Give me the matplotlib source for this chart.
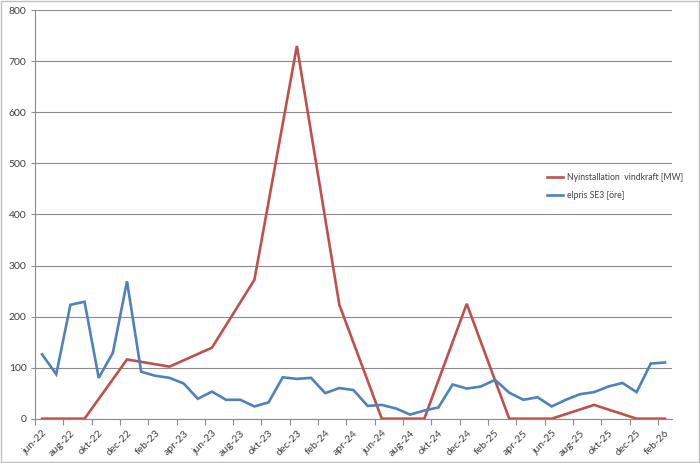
import matplotlib
matplotlib.use("Agg")
from matplotlib import pyplot as plt
from matplotlib.patches import Rectangle
import numpy as np

# months jun-22 .. feb-26 (Swedish short names)
month_names = ["jan", "feb", "mar", "apr", "maj", "jun",
               "jul", "aug", "sep", "okt", "nov", "dec"]
months = []
for year in range(22, 27):
    for m in month_names:
        months.append(f"{m}-{year}")
months = months[5:5 + 45]

# elpris SE3 [öre], monthly
elpris = [126, 87, 223, 229, 80, 129, 269, 92, 84, 80, 69, 39, 53, 37, 37, 24,
          32, 81, 78, 80, 50, 60, 56, 25, 27, 20, 8, 16, 22, 67, 59, 63, 76,
          51, 37, 42, 24, 37, 48, 52, 63, 70, 52, 108, 110]

# Nyinstallation vindkraft [MW], quarterly points
wind_idx = [0, 3, 6, 9, 12, 15, 18, 21, 24, 27, 30, 33, 36, 39, 42, 44]
wind_mw = [0, 0, 116, 102, 139, 272, 730, 223, 0, 0, 225, 0, 0, 27, 0, 0]

red = "#C0504D"
blue = "#4F81BD"
grid_col = "#8C8C8C"

plt.rcParams["font.family"] = ["Lato", "DejaVu Sans"]

fig = plt.figure(figsize=(7, 4.63), dpi=100)
ax = fig.add_axes([0.05, 0.0957, 0.91, 0.8823])

x = np.arange(len(months))
ax.plot(wind_idx, wind_mw, color=red, lw=1.9, label="Nyinstallation  vindkraft [MW]",
        solid_joinstyle="miter", zorder=3)
ax.plot(x, elpris, color=blue, lw=1.9, label="elpris SE3 [öre]",
        solid_joinstyle="miter", zorder=4)

ax.set_xlim(-0.5, len(months) - 0.5)
ax.set_ylim(0, 800)
ax.set_yticks(range(0, 801, 100))
ax.yaxis.grid(True, color=grid_col, lw=0.8)
ax.set_axisbelow(True)

ax.set_xticks(x[::2])
ax.set_xticklabels(months[::2], rotation=45, ha="right", rotation_mode="anchor")
ax.set_xticks(np.arange(-0.5, len(months), 2), minor=True)
ax.tick_params(axis="x", which="major", length=0, pad=7, labelsize=7.5)
ax.tick_params(axis="x", which="minor", length=4, color=grid_col, width=0.8)
ax.tick_params(axis="y", length=3, color=grid_col, width=0.8, labelsize=7.5, pad=3)
for lab in ax.get_xticklabels() + ax.get_yticklabels():
    lab.set_color("#404040")

for s in ["top", "right"]:
    ax.spines[s].set_visible(False)
for s in ["left", "bottom"]:
    ax.spines[s].set_color(grid_col)
    ax.spines[s].set_linewidth(0.8)

fig.legend(loc="center left", bbox_to_anchor=(0.781, 0.597), frameon=False,
           fontsize=6.2, handlelength=1.9, handletextpad=0.4, labelspacing=1.0,
           borderaxespad=0, borderpad=0, labelcolor="#404040")

fig.patches.append(Rectangle((0.002, 0.003), 0.996, 0.994, transform=fig.transFigure,
                             fill=False, edgecolor="#BFBFBF", lw=1))

fig.savefig("out.png", dpi=100)
